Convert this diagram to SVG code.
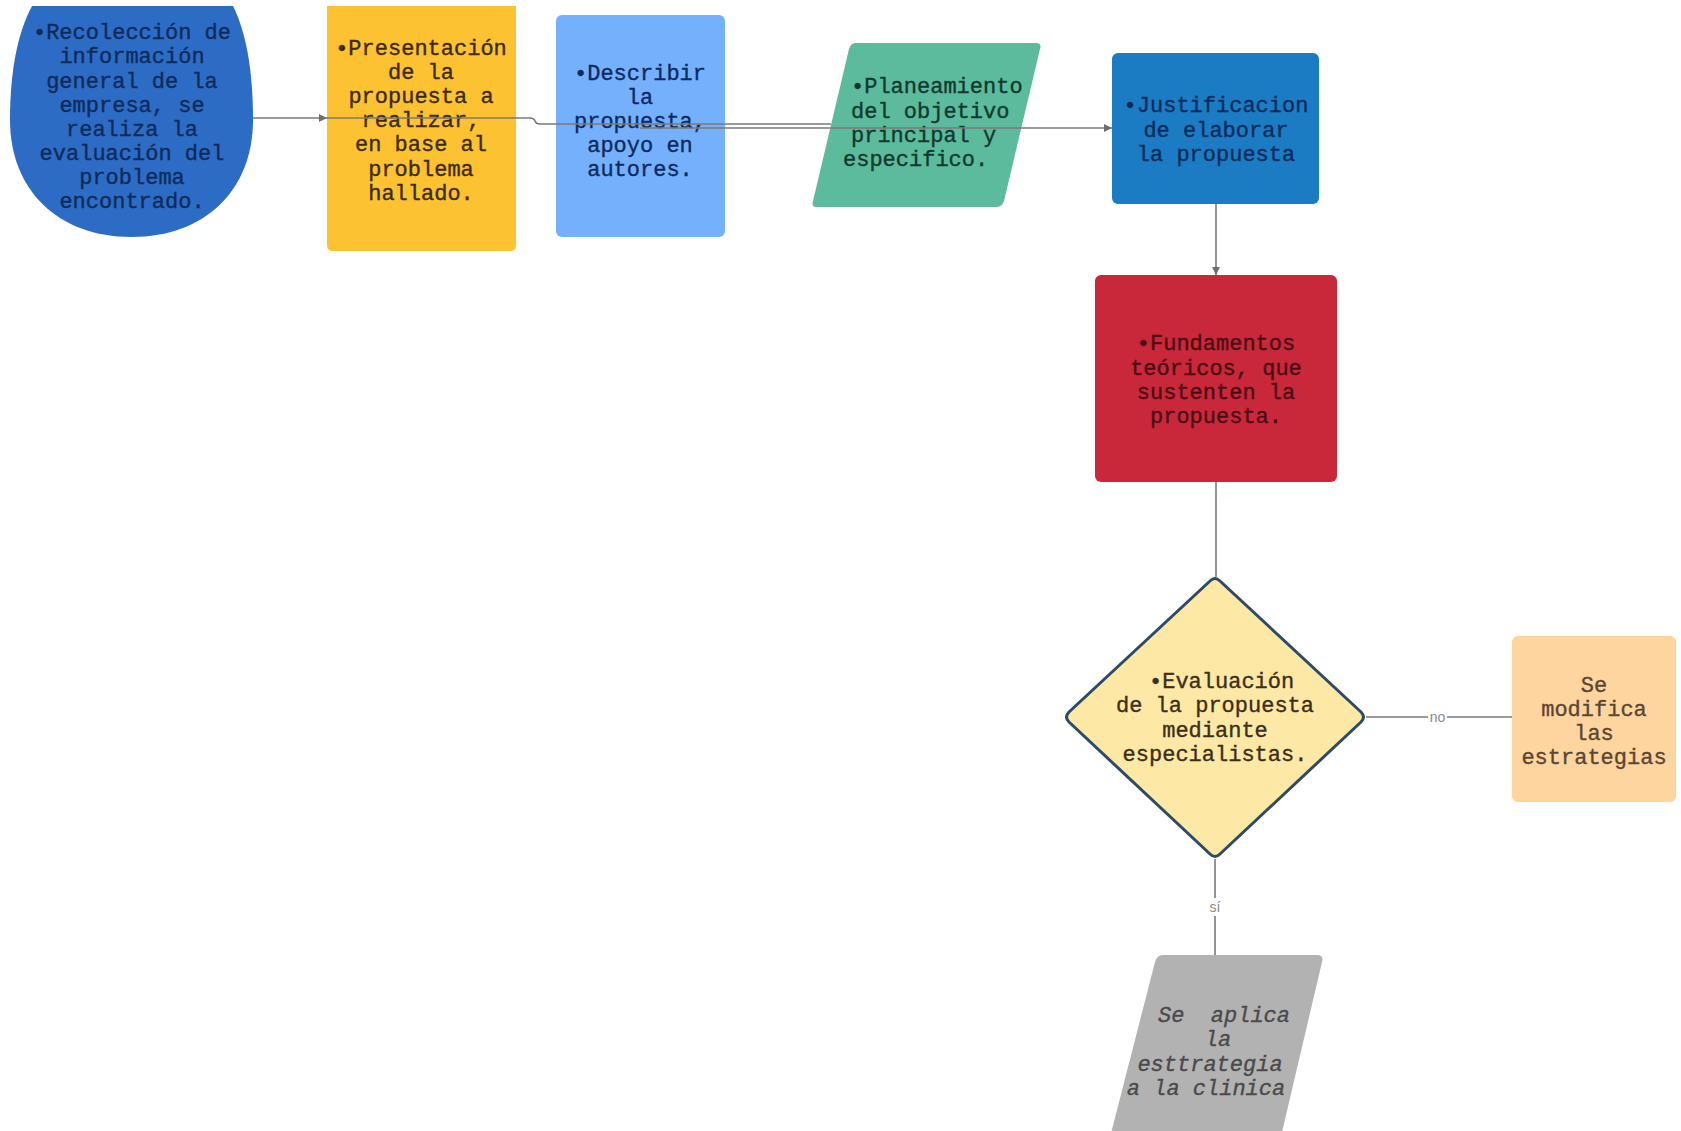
<svg xmlns="http://www.w3.org/2000/svg" width="1681" height="1131" viewBox="0 0 1681 1131">
<defs>
<style>
.t{font-family:"Liberation Mono","DejaVu Sans Mono",monospace;font-size:22px;text-anchor:middle;stroke-width:0.35}
.ts{font-family:"Liberation Mono","DejaVu Sans Mono",monospace;font-size:22px;text-anchor:start;stroke-width:0.35}
.lbl{font-family:"Liberation Sans",Arial,sans-serif;font-size:14px;fill:#8a8a8a;text-anchor:middle}
.c{fill:none;stroke:#7a7a7a;stroke-width:1.6}
</style>
<marker id="arr" viewBox="0 0 10 10" refX="10" refY="5" markerWidth="8" markerHeight="8" markerUnits="userSpaceOnUse" orient="auto">
<path d="M0,0 L10,5 L0,10 Z" fill="#6f6f6f"/>
</marker>
</defs>
<rect width="1681" height="1131" fill="#ffffff"/>

<g id="n-recoleccion">
<path d="M32,6 H233 C246,32 253,70 253,120 C253,190 205,237 131.5,237 C58,237 10,190 10,120 C10,70 18,32 32,6 Z" fill="#2D6CC5"/>
<g class="t" fill="#0E2B59" stroke="#0E2B59">
<text x="132" y="39">•Recolección de</text>
<text x="132" y="63">información</text>
<text x="132" y="87.5">general de la</text>
<text x="132" y="111.5">empresa, se</text>
<text x="132" y="135.5">realiza la</text>
<text x="132" y="160">evaluación del</text>
<text x="132" y="184">problema</text>
<text x="132" y="208">encontrado.</text>
</g>
</g>

<g id="n-presentacion">
<path d="M327,6 H516 V245 Q516,251 510,251 H333 Q327,251 327,245 Z" fill="#FCC232"/>
<g class="t" fill="#3B2A05" stroke="#3B2A05">
<text x="421" y="54.5">•Presentación</text>
<text x="421" y="78.7">de la</text>
<text x="421" y="102.9">propuesta a</text>
<text x="421" y="127.1">realizar,</text>
<text x="421" y="151.3">en base al</text>
<text x="421" y="175.5">problema</text>
<text x="421" y="199.7">hallado.</text>
</g>
</g>

<g id="n-describir">
<rect x="556" y="15" width="169" height="222" rx="6" fill="#74B0FC"/>
<g class="t" fill="#0D2A5E" stroke="#0D2A5E">
<text x="640" y="79.5">•Describir</text>
<text x="640" y="103.7">la</text>
<text x="640" y="127.9">propuesta,</text>
<text x="640" y="152.1">apoyo en</text>
<text x="640" y="176.3">autores.</text>
</g>
</g>

<g id="n-planeamiento">
<path d="M855,43 H1036 Q1042,43 1040,49 L1004,201 Q1002,207 996,207 H817 Q811,207 813,201 L849,49 Q851,43 855,43 Z" fill="#5CBA9D"/>
<g class="ts" fill="#0E3A2C" stroke="#0E3A2C">
<text x="851" y="93">•Planeamiento</text>
<text x="851" y="117.5">del objetivo</text>
<text x="851" y="141.5">principal y</text>
<text x="843" y="166">especifico.</text>
</g>
</g>

<g id="n-justificacion">
<rect x="1112" y="53" width="207" height="151" rx="6" fill="#1B7BC3"/>
<g class="t" fill="#0A2C5A" stroke="#0A2C5A">
<text x="1216" y="112">•Justificacion</text>
<text x="1216" y="136.5">de elaborar</text>
<text x="1216" y="161">la propuesta</text>
</g>
</g>

<g id="n-fundamentos">
<rect x="1095" y="275" width="242" height="207" rx="6" fill="#C8283A"/>
<g class="t" fill="#4A0A12" stroke="#4A0A12">
<text x="1216" y="350">•Fundamentos</text>
<text x="1216" y="374.5">teóricos, que</text>
<text x="1216" y="398.5">sustenten la</text>
<text x="1216" y="423">propuesta.</text>
</g>
</g>

<g id="n-evaluacion">
<path d="M1210,581 Q1215,576 1220,581 L1361,712 Q1366,717 1361,722 L1220,854 Q1215,859 1210,854 L1069,722 Q1064,717 1069,712 Z" fill="#FDE8A5" stroke="#2E4B66" stroke-width="3"/>
<g fill="#3A2F1A" stroke="#3A2F1A">
<text class="ts" x="1149" y="688">•Evaluación</text>
<text class="t" x="1215" y="712">de la propuesta</text>
<text class="t" x="1215" y="736.5">mediante</text>
<text class="t" x="1215" y="760.5">especialistas.</text>
</g>
</g>

<g id="n-modifica">
<rect x="1512" y="636" width="164" height="166" rx="6" fill="#FED59E"/>
<g class="t" fill="#5A4632" stroke="#5A4632">
<text x="1594" y="692">Se</text>
<text x="1594" y="716">modifica</text>
<text x="1594" y="740">las</text>
<text x="1594" y="764">estrategias</text>
</g>
</g>

<g id="n-aplica">
<path d="M1163,955 H1317 Q1324,955 1322,962 L1279,1145 H1108 L1155,962 Q1157,955 1163,955 Z" fill="#B2B2B2"/>
<g class="t" fill="#4A4A4A" stroke="#4A4A4A" font-style="italic">
<text x="1224" y="1022" xml:space="preserve">Se  aplica</text>
<text x="1218" y="1046">la</text>
<text x="1210" y="1070.5">esttrategia</text>
<text x="1206" y="1095">a la clinica</text>
</g>
</g>

<g id="connectors">
<path class="c" d="M253,118 H327" marker-end="url(#arr)"/>
<path class="c" d="M327,118 H530 Q534,118 535,121 Q536,124 540,124 H831"/>
<path class="c" d="M640,128 H1112" marker-end="url(#arr)"/>
<path class="c" d="M1216,204 V275" marker-end="url(#arr)"/>
<path class="c" d="M1216,482 V577"/>
<path class="c" d="M1366,717 H1428 M1447,717 H1512"/>
<text class="lbl" x="1437.5" y="722">no</text>
<path class="c" d="M1215,859 V898 M1215,916 V955"/>
<text class="lbl" x="1215" y="912">sí</text>
</g>
</svg>
